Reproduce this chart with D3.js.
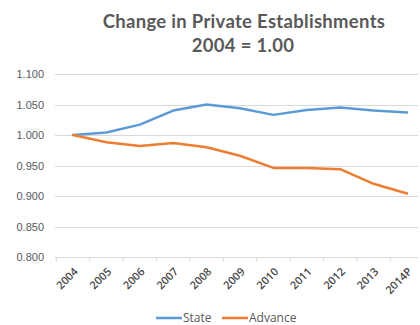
<!DOCTYPE html>
<html>
<head>
<meta charset="utf-8">
<script src="https://cdn.jsdelivr.net/npm/d3@7"></script>
<style>
  html, body { margin: 0; padding: 0; background: #fff; }
  svg { display: block; }
</style>
</head>
<body>
<svg id="chart" width="420" height="325"></svg>
<script>
// Index of private establishments, 2004 = 1.00
const years = ["2004", "2005", "2006", "2007", "2008", "2009", "2010", "2011", "2012", "2013", "2014P"];
const stateValues = [1.000, 1.004, 1.017, 1.040, 1.050, 1.044, 1.033, 1.041, 1.045, 1.040, 1.037];
const advanceValues = [1.000, 0.988, 0.982, 0.987, 0.980, 0.966, 0.946, 0.946, 0.944, 0.920, 0.904];
const yTicks = [0.800, 0.850, 0.900, 0.950, 1.000, 1.050, 1.100];
const seriesNames = ["State", "Advance"];
const seriesColors = ["#5b9bd5", "#ed7d31"];

const svg = d3.select("#chart");
const margin = { left: 55, right: 2, top: 74, bottom: 68 };
const W = 420, H = 325;

const x = d3.scalePoint().domain(years).range([73, 407]);
const y = d3.scaleLinear().domain([0.8, 1.1]).range([H - margin.bottom, margin.top]);

// Title
const title = svg.append("g").attr("fill", "#595959")
  .attr("font-family", "Lato, 'Open Sans', sans-serif").attr("font-weight", "bold")
  .attr("text-anchor", "middle").attr("font-size", 18.5).attr("letter-spacing", 0.3);
title.append("text").attr("x", 244).attr("y", 28).text("Change in Private Establishments");
title.append("text").attr("x", 243).attr("y", 52).text("2004 = 1.00");

// Gridlines
svg.append("g").selectAll("line").data(yTicks.slice(1)).join("line")
  .attr("x1", margin.left).attr("x2", W - margin.right)
  .attr("y1", d => Math.round(y(d)) + 0.5).attr("y2", d => Math.round(y(d)) + 0.5)
  .attr("stroke", "#d9d9d9").attr("stroke-width", 1);

// Y axis labels
const yAxis = svg.append("g").attr("transform", `translate(${margin.left},0)`)
  .call(d3.axisLeft(y).tickValues(yTicks).tickFormat(d3.format(".3f")).tickSize(0).tickPadding(11));
yAxis.select(".domain").remove();
yAxis.selectAll("text").attr("fill", "#595959").attr("font-size", 11)
  .attr("font-family", "'Liberation Sans', Arial, sans-serif");

// X axis with ticks between categories
const step = x.step();
const xAxisG = svg.append("g").attr("transform", `translate(0,${Math.round(y(0.8)) + 0.5})`);
xAxisG.append("line").attr("x1", margin.left).attr("x2", W - margin.right)
  .attr("stroke", "#d9d9d9");
xAxisG.selectAll("line.tick").data(d3.range(years.length + 1)).join("line").attr("class", "tick")
  .attr("x1", i => x(years[0]) - step / 2 + i * step).attr("x2", i => x(years[0]) - step / 2 + i * step)
  .attr("y1", 0).attr("y2", 4).attr("stroke", "#d9d9d9");
xAxisG.selectAll("text").data(years).join("text")
  .attr("transform", d => `translate(${x(d) + 3},${12}) rotate(-45)`)
  .attr("text-anchor", "end").attr("fill", "#4a4a4a").attr("font-size", 11)
  .attr("font-weight", 600)
  .attr("font-family", "'Open Sans', sans-serif")
  .attr("dy", "0.35em")
  .text(d => d);

// Lines
const line = d3.line().x((d, i) => x(years[i])).y(d => y(d));
[stateValues, advanceValues].forEach((vals, k) => {
  svg.append("path").datum(vals).attr("d", line)
    .attr("fill", "none").attr("stroke", seriesColors[k]).attr("stroke-width", 2.5)
    .attr("stroke-linejoin", "round").attr("stroke-linecap", "round");
});

// Legend
const legend = svg.append("g").attr("font-family", "'Open Sans', sans-serif").attr("font-size", 12).attr("fill", "#595959");
const legendX = [156, 222];
seriesNames.forEach((name, k) => {
  const g = legend.append("g").attr("transform", `translate(${legendX[k]},318)`);
  g.append("line").attr("x1", 0).attr("x2", 26).attr("y1", 0).attr("y2", 0)
    .attr("stroke", seriesColors[k]).attr("stroke-width", 2.5);
  g.append("text").attr("x", 27).attr("dy", "0.35em").text(name);
});
</script>
</body>
</html>
